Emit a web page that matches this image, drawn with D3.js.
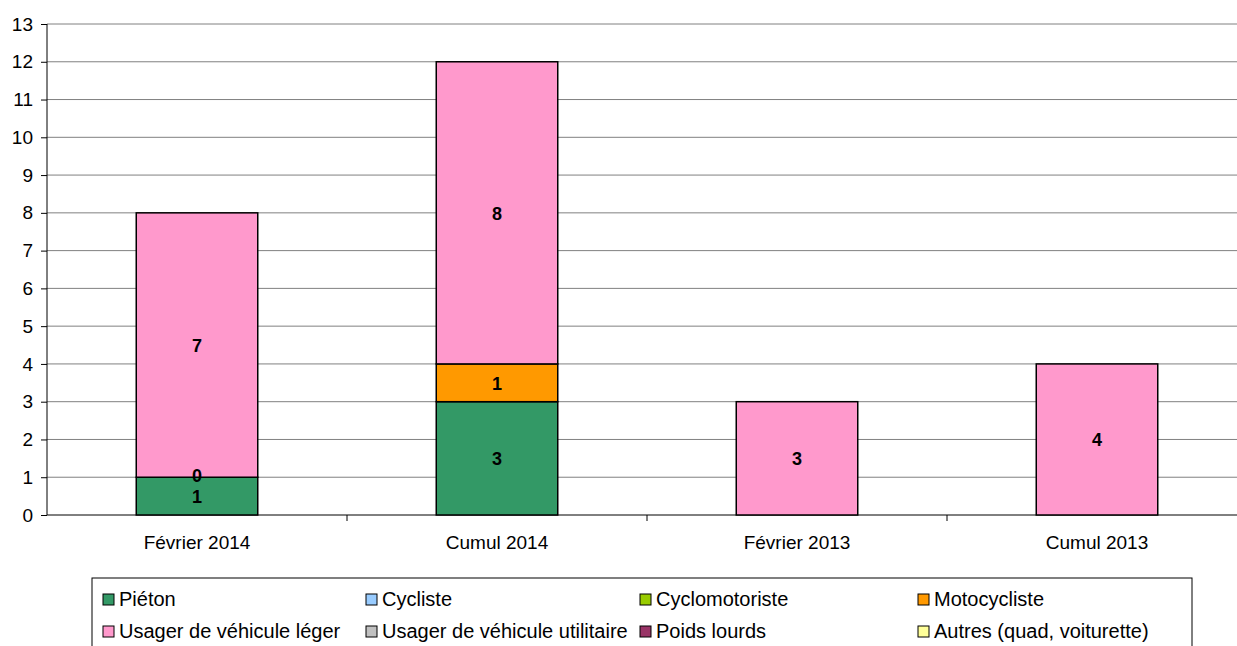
<!DOCTYPE html>
<html>
<head>
<meta charset="utf-8">
<script src="https://cdn.jsdelivr.net/npm/d3@7"></script>
<style>
  body { margin: 0; background: #fff; }
  text { font-family: "Liberation Sans", Arial, sans-serif; }
</style>
</head>
<body>
<div id="chart"></div>
<script>
// data
const categories = ["Février 2014", "Cumul 2014", "Février 2013", "Cumul 2013"];
const seriesNames = ["Piéton", "Cycliste", "Cyclomotoriste", "Motocycliste",
  "Usager de véhicule léger", "Usager de véhicule utilitaire", "Poids lourds", "Autres (quad, voiturette)"];
const seriesColors = ["#339966", "#99ccff", "#99cc00", "#ff9900", "#ff99cc", "#c0c0c0", "#993366", "#ffff99"];
// one array per series, null = no value
const pieton       = [1, 3, null, null];
const cycliste     = [null, null, null, null];
const cyclomoto    = [null, null, null, null];
const motocycliste = [0, 1, null, null];
const vehLeger     = [7, 8, 3, 4];
const vehUtil      = [null, null, null, null];
const poidsLourds  = [null, null, null, null];
const autres       = [null, null, null, null];
const seriesValues = [pieton, cycliste, cyclomoto, motocycliste, vehLeger, vehUtil, poidsLourds, autres];
const yTicks = d3.range(0, 14);

const width = 1237, height = 646;
const margin = {left: 47, right: 0, top: 24, bottom: 131};

const svg = d3.select("#chart").append("svg")
  .attr("width", width).attr("height", height);

const yScale = d3.scaleLinear().domain([0, 13]).range([height - margin.bottom, margin.top]);
const xScale = d3.scaleBand().domain(categories).range([margin.left, margin.left + 1200]);
const barW = xScale.bandwidth() * 0.405;

// gridlines
svg.append("g").selectAll("line").data(yTicks.filter(d => d > 0)).enter().append("line")
  .attr("x1", margin.left).attr("x2", width)
  .attr("y1", d => yScale(d)).attr("y2", d => yScale(d))
  .attr("stroke", "#808080").attr("stroke-width", 1);

// y axis
const yAxis = svg.append("g")
  .attr("transform", `translate(${margin.left},0)`)
  .call(d3.axisLeft(yScale).tickValues(yTicks).tickSize(6).tickPadding(8));
yAxis.selectAll("text").attr("font-size", "19px").attr("fill", "#000");
yAxis.selectAll("line").attr("stroke", "#000");
yAxis.select(".domain").attr("stroke", "#000").attr("d", `M0,${yScale(0)}V${yScale(13)}`);

// x axis
const xAxis = svg.append("g")
  .attr("transform", `translate(0,${yScale(0)})`)
  .call(d3.axisBottom(xScale).tickSize(0).tickPadding(21));
xAxis.select(".domain").attr("stroke", "#000").attr("d", `M${margin.left},0H${width}`);
xAxis.selectAll("text").attr("font-size", "19px").attr("fill", "#000");
// separator ticks between categories
svg.append("g").selectAll("line").data(categories.slice(1)).enter().append("line")
  .attr("x1", d => xScale(d)).attr("x2", d => xScale(d))
  .attr("y1", yScale(0)).attr("y2", yScale(0) + 6)
  .attr("stroke", "#000");

// stacked segments, labels drawn afterwards so none get hidden
const labels = [];
categories.forEach((cat, ci) => {
  let base = 0;
  const cx = xScale(cat) + xScale.bandwidth() / 2;
  seriesValues.forEach((vals, si) => {
    const v = vals[ci];
    if (v === null) return;
    if (v > 0) {
      svg.append("rect")
        .attr("x", cx - barW / 2)
        .attr("y", yScale(base + v))
        .attr("width", barW)
        .attr("height", yScale(base) - yScale(base + v))
        .attr("fill", seriesColors[si])
        .attr("stroke", "#000").attr("stroke-width", 1.5);
    }
    labels.push({x: cx, y: yScale(base + v / 2), v: v});
    base += v;
  });
});
svg.append("g").selectAll("text").data(labels).enter().append("text")
  .attr("x", d => d.x)
  .attr("y", d => d.y + (d.v === 0 ? 5 : 7))
  .attr("text-anchor", "middle")
  .attr("font-size", "18px").attr("font-weight", "bold")
  .text(d => d.v);

// legend
svg.append("rect")
  .attr("x", 92).attr("y", 578).attr("width", 1100).attr("height", 80)
  .attr("fill", "#fff").attr("stroke", "#000").attr("stroke-width", 1);
const colX = [108, 371, 645, 923];
const rowY = [599, 631];
seriesNames.forEach((name, i) => {
  const x = colX[i % 4], y = rowY[Math.floor(i / 4)];
  svg.append("rect")
    .attr("x", x - 5).attr("y", y - 5).attr("width", 11).attr("height", 11)
    .attr("fill", seriesColors[i]).attr("stroke", "#000").attr("stroke-width", 1);
  svg.append("text")
    .attr("x", x + 11).attr("y", y + 7)
    .attr("font-size", "20px").attr("fill", "#000")
    .text(name);
});
</script>
</body>
</html>
